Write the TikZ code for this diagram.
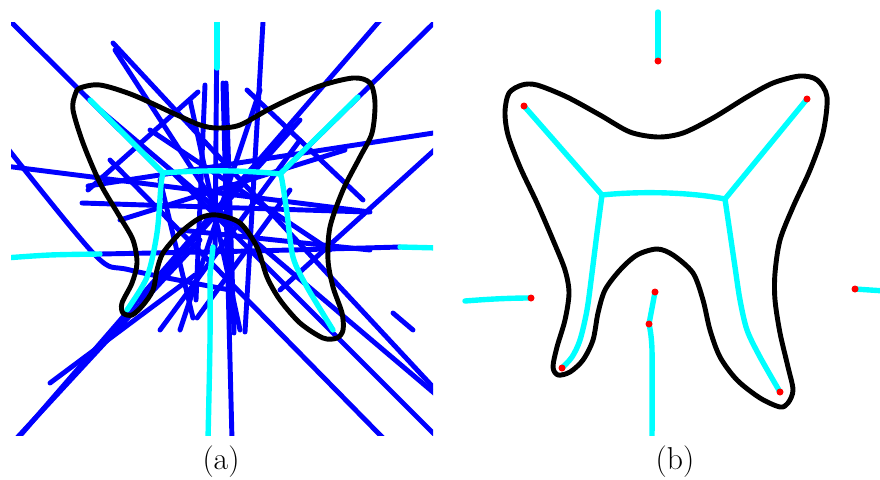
\documentclass[tikz,border=0pt]{standalone}
\usepackage{fontspec}
\usepackage{xcolor}
\usepackage{tikz}
\definecolor{skelcyan}{RGB}{0,255,255}
\definecolor{rayblue}{RGB}{0,0,255}
\definecolor{tipred}{RGB}{255,0,0}

\begin{document}
\begin{tikzpicture}[x=0.3mm,y=-0.3mm,
  ray/.style={rayblue,line width=4.2pt,line cap=round},
  skel/.style={skelcyan,line width=4.6pt,line cap=round,line join=round},
  rim/.style={black,line width=4.2pt,line join=round},
  tip/.style={fill=tipred},
  lbl/.style={font=\fontsize{27}{32}\selectfont,inner sep=0pt}
]
\useasboundingbox (0,0) rectangle (880,479);

% (a) skeleton with the stray lines
\begin{scope}
\clip (11,22) rectangle (433,435);
\foreach \ax/\ay/\bx/\by in {0/11/163/173, 445/12/280/174, 217/22/215/250,
    223/83/232/440, 226/83/234/333, 263/22/245/332, 382/18/12/445,
    15/440/200/240, 50/383/195/275, 113/43/433/387, 100/110/440/398,
    110/160/385/440, 170/170/440/440, 5/166/370/212, 82/203/368/212,
    88/186/440/132, 198/92/88/190, 247/90/363/200, 440/145/280/290,
    393/313/413/330, 115/50/235/235, 260/90/180/330, 150/130/330/250,
    120/220/345/150, 140/300/300/120, 300/140/160/330, 190/100/240/330,
    180/230/370/250, 160/180/193/318, 290/190/197/318, 205/85/196/300}
  \draw[ray] (\ax,\ay) -- (\bx,\by);
\draw[ray] plot[smooth] coordinates {(5,145) (95,255) (130,270) (230,290)};
\draw[ray] plot[smooth] coordinates {(100,254) (250,251) (400,247)};
\draw[skel] (90,100) -- (163,173);
\draw[skel] (358,97) -- (280,174);
\draw[skel] (163,173) .. controls (200,170) and (245,170) .. (280,174);
\draw[skel] plot[smooth] coordinates {(163,173) (161,185) (157,233) (147,277) (127,310)};
\draw[skel] plot[smooth] coordinates {(280,174) (282,180) (287,213) (293,257) (307,287) (333,330)};
\draw[skel] (217,22) -- (217,68);
\draw[skel] plot[smooth] coordinates {(5,258) (50,255) (100,254)};
\draw[skel] (400,247) -- (440,248);
\draw[skel] (213,247) -- (210,275);
\draw[skel] plot[smooth] coordinates {(210,275) (210,340) (208,440)};
\draw[rim] plot[smooth cycle] coordinates {(80,88) (100,85) (133,95) (177,115)
    (200,125) (217,128) (240,125) (273,107) (317,87) (353,78) (370,83) (375,103)
    (372,133) (360,157) (343,190) (330,227) (328,260) (333,287) (342,313)
    (343,330) (337,338) (323,338) (300,323) (280,300) (267,277) (257,247)
    (240,223) (217,215) (200,218) (180,233) (163,253) (157,270) (153,290)
    (143,305) (132,315) (123,313) (122,303) (132,283) (137,263) (133,240)
    (120,217) (100,183) (83,143) (73,110) (75,95)};
\end{scope}

% (b) pruned skeleton
\begin{scope}
\clip (440,0) rectangle (880,435);
\draw[skel] (524,106) -- (602,195);
\draw[skel] (807,99) -- (725,199);
\draw[skel] (602,195) .. controls (640,191) and (690,192) .. (725,199);
\draw[skel] plot[smooth] coordinates {(602,195) (597,233) (592,273) (587,310) (580,340) (572,357) (562,368)};
\draw[skel] plot[smooth] coordinates {(725,199) (730,233) (735,267) (740,300) (747,330) (760,357) (780,392)};
\draw[skel] (658,12) -- (658,61);
\draw[skel] (465,301) .. controls (490,299) and (510,298) .. (531,298);
\draw[skel] (855,289) -- (885,291);
\draw[skel] (655,292) -- (649,324);
\draw[skel] plot[smooth] coordinates {(649,324) (652,350) (652,440)};
\draw[rim] plot[smooth cycle] coordinates {(505,112) (509,93) (522,85) (537,85)
    (567,97) (600,115) (630,132) (658,137) (683,133) (713,118) (747,97) (773,83)
    (800,76) (817,80) (827,97) (823,133) (810,170) (793,207) (780,240)
    (775,273) (775,300) (780,333) (788,367) (793,390) (788,403) (780,407)
    (760,398) (737,380) (720,357) (710,330) (703,300) (693,273) (673,255)
    (657,249) (637,255) (620,270) (605,290) (598,313) (593,340) (583,360)
    (570,372) (558,375) (553,367) (557,347) (565,320) (569,293) (565,270)
    (553,240) (537,203) (520,167) (508,135)};
\foreach \px/\py in {524/106, 807/99, 658/61, 531/298, 855/289, 655/292,
    649/324, 562/368, 780/392}
  \fill[tip] (\px,\py) circle[radius=1.05mm];
\end{scope}

\node[lbl] (capa) at (221,462) {(a)};
\node[lbl] (capb) at (675,462) {(b)};
\end{tikzpicture}
\end{document}
